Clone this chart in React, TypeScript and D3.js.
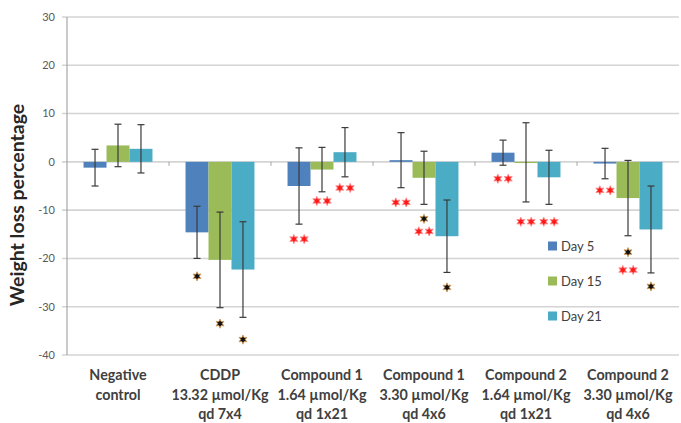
import React, { useEffect, useRef } from 'react';
import * as d3 from 'd3';

// x-axis groups, one label per line
const categories = [
  ['Negative', 'control'],
  ['CDDP', '13.32 µmol/Kg', 'qd 7x4'],
  ['Compound 1', '1.64 µmol/Kg', 'qd 1x21'],
  ['Compound 1', '3.30 µmol/Kg', 'qd 4x6'],
  ['Compound 2', '1.64 µmol/Kg', 'qd 1x21'],
  ['Compound 2', '3.30 µmol/Kg', 'qd 4x6'],
];
const series = ['Day 5', 'Day 15', 'Day 21'];
const colors = ['#4F81BD', '#9BBB59', '#4BACC6'];

// mean weight loss per group, per series
const day5 = [-1.2, -14.6, -5.0, 0.35, 1.9, -0.35];
const day15 = [3.4, -20.3, -1.6, -3.3, -0.1, -7.5];
const day21 = [2.7, -22.3, 2.0, -15.4, -3.2, -14.0];
// error bar half widths
const err5 = [3.8, 5.4, 7.9, 5.7, 2.6, 3.15];
const err15 = [4.4, 9.9, 4.6, 5.5, 8.2, 7.8];
const err21 = [5.0, 9.9, 5.1, 7.5, 5.6, 9.0];

// significance marks: [group, series, y value, kind]
const marks: [number, number, number, 'black' | 'red'][] = [
  [1, 0, -23.7, 'black'], [1, 1, -33.5, 'black'], [1, 2, -36.8, 'black'],
  [2, 0, -16.0, 'red'], [2, 1, -8.1, 'red'], [2, 2, -5.4, 'red'],
  [3, 0, -8.4, 'red'], [3, 1, -11.8, 'black'], [3, 1, -14.4, 'red'], [3, 2, -26.0, 'black'],
  [4, 0, -3.5, 'red'], [4, 1, -12.4, 'red'], [4, 2, -12.4, 'red'],
  [5, 0, -5.9, 'red'], [5, 1, -18.7, 'black'], [5, 1, -22.4, 'red'], [5, 2, -25.8, 'black'],
];

const yTicks = [30, 20, 10, 0, -10, -20, -30, -40];

const W = 681;
const H = 423;
const FONT = 'Lato, "Open Sans", sans-serif';

export default function App() {
  const ref = useRef<SVGSVGElement>(null);

  useEffect(() => {
    if (!ref.current) return;
    const svg = d3.select(ref.current);
    svg.selectAll('*').remove();

    const values = [day5, day15, day21];
    const errs = [err5, err15, err21];

    const x = d3.scaleBand<number>().domain(d3.range(categories.length)).range([67, 679]);
    const xs = d3.scaleBand<number>().domain(d3.range(series.length)).range([0, x.bandwidth()]).paddingOuter(0.72);
    const y = d3.scaleLinear().domain([-40, 30]).range([355, 17]);

    // gridlines
    svg.append('g').selectAll('line').data(yTicks).join('line')
      .attr('x1', 62).attr('x2', 679)
      .attr('y1', d => y(d)).attr('y2', d => y(d))
      .attr('stroke', '#d4d4d4').attr('stroke-width', 1.6);

    // y axis line
    svg.append('line').attr('x1', 67).attr('x2', 67).attr('y1', y(30)).attr('y2', y(-40))
      .attr('stroke', '#a6a6a6').attr('stroke-width', 1.2);

    svg.append('g').selectAll('text').data(yTicks).join('text')
      .attr('x', 55).attr('y', d => y(d)).attr('dy', '0.35em')
      .attr('text-anchor', 'end').attr('font-family', FONT).attr('font-size', 11)
      .attr('fill', '#595959').text(d => d);

    // category ticks on zero line
    svg.append('g').selectAll('line').data(d3.range(1, categories.length)).join('line')
      .attr('x1', d => x(d)!).attr('x2', d => x(d)!)
      .attr('y1', y(0)).attr('y2', y(0) + 4)
      .attr('stroke', '#a6a6a6').attr('stroke-width', 1);

    // bars
    series.forEach((_, s) => {
      svg.append('g').selectAll('rect').data(values[s]).join('rect')
        .attr('x', (_, i) => x(i)! + xs(s)!)
        .attr('width', xs.bandwidth())
        .attr('y', d => y(Math.max(0, d)))
        .attr('height', d => Math.max(1.2, Math.abs(y(d) - y(0))))
        .attr('fill', colors[s]);
    });

    // error bars
    series.forEach((_, s) => {
      const g = svg.append('g').attr('stroke', '#3a3a3a').attr('stroke-width', 1.2);
      values[s].forEach((v, i) => {
        const cx = x(i)! + xs(s)! + xs.bandwidth() / 2;
        const lo = y(v - errs[s][i]);
        const hi = y(v + errs[s][i]);
        g.append('line').attr('x1', cx).attr('x2', cx).attr('y1', lo).attr('y2', hi);
        g.append('line').attr('x1', cx - 3.5).attr('x2', cx + 3.5).attr('y1', lo).attr('y2', lo);
        g.append('line').attr('x1', cx - 3.5).attr('x2', cx + 3.5).attr('y1', hi).attr('y2', hi);
      });
    });

    // significance marks, drawn as six-armed asterisks
    const asterisk = d3.lineRadial<number>()
      .angle(k => (k * Math.PI) / 6)
      .radius(k => (k % 2 === 0 ? 4.6 : 2.3))
      .curve(d3.curveLinearClosed)(d3.range(12));
    marks.forEach(([gi, s, v, kind]) => {
      const cx = x(gi)! + xs(s)! + xs.bandwidth() / 2;
      const cy = y(v);
      const offsets = kind === 'red' ? [-5.2, 5.2] : [0];
      offsets.forEach(o => {
        svg.append('path').attr('d', asterisk)
          .attr('transform', `translate(${cx + o},${cy})`)
          .attr('fill', kind === 'red' ? '#ff1a1a' : '#111')
          .attr('stroke', kind === 'red' ? '#ff9090' : '#d9a35c')
          .attr('stroke-width', 0.9).attr('stroke-linejoin', 'round');
      });
    });

    // x labels
    const lab = svg.append('g').attr('font-family', FONT).attr('font-size', 14.3)
      .attr('font-weight', 'bold').attr('fill', '#404040').attr('text-anchor', 'middle');
    categories.forEach((lines, i) => {
      const cx = x(i)! + x.bandwidth() / 2;
      lines.forEach((t, j) => {
        lab.append('text').attr('x', cx).attr('y', 380 + j * 19.5).text(t);
      });
    });

    // y title
    svg.append('text')
      .attr('transform', `translate(24,${205}) rotate(-90)`)
      .attr('text-anchor', 'middle').attr('font-family', FONT).attr('font-size', 19.5)
      .attr('font-weight', 'bold').attr('fill', '#262626')
      .text('Weight loss percentage');

    // legend
    const legendY = [246, 281, 316];
    series.forEach((name, s) => {
      svg.append('rect').attr('x', 548).attr('y', legendY[s] - 4.5).attr('width', 9).attr('height', 9)
        .attr('fill', colors[s]);
      svg.append('text').attr('x', 561).attr('y', legendY[s]).attr('dy', '0.35em')
        .attr('font-family', FONT).attr('font-size', 13).attr('fill', '#404040').text(name);
    });
  }, []);

  return (
    <div style={{ position: 'fixed', left: 0, top: 0 }}>
      <svg ref={ref} width={W} height={H} style={{ display: 'block', background: '#fff' }} />
    </div>
  );
}
